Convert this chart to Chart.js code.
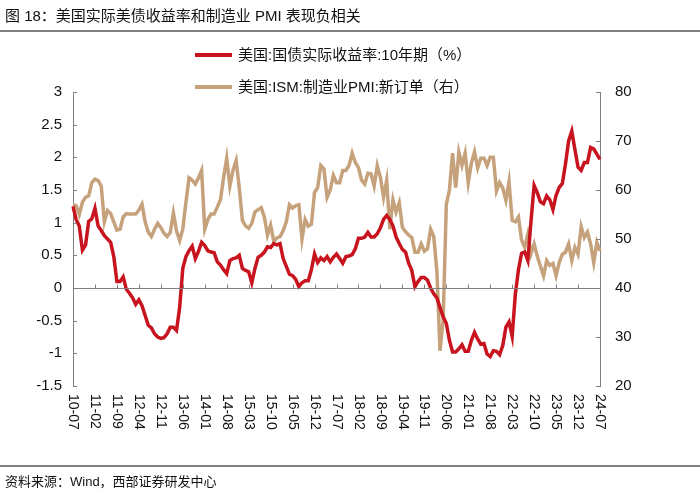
<!DOCTYPE html>
<html>
<head>
<meta charset="utf-8">
<script src="https://cdn.jsdelivr.net/npm/chart.js@4/dist/chart.umd.min.js"></script>
<style>
  body { margin: 0; background: #fff; }
  #wrap { position: relative; width: 700px; height: 493px; overflow: hidden; font-family: "Liberation Sans", Arial, "Noto Sans CJK SC", sans-serif; color: #111; }
  #c { position: absolute; left: 0; top: 0; }
  .title { position: absolute; left: 5px; top: 6px; font-size: 15px; line-height: 20px; white-space: nowrap; }
  .rule { position: absolute; left: 0; width: 700px; height: 2px; background: #7f7f7f; }
  .legend { position: absolute; left: 195px; font-size: 15px; line-height: 20px; white-space: nowrap; }
  .legend span.swatch { display: inline-block; width: 37px; height: 4px; vertical-align: middle; margin-right: 6px; position: relative; top: -1px; }
  .source { position: absolute; left: 5px; top: 473px; font-size: 13px; line-height: 18px; white-space: nowrap; }
</style>
</head>
<body>
<div id="wrap">
  <canvas id="c" width="700" height="493"></canvas>
  <div class="title">图 18：美国实际美债收益率和制造业 PMI 表现负相关</div>
  <div class="rule" style="top:30px"></div>
  <div class="legend" style="top:45px"><span class="swatch" style="background:#c8141e"></span>美国:国债实际收益率:10年期（%）</div>
  <div class="legend" style="top:77px"><span class="swatch" style="background:#c6a27c"></span>美国:ISM:制造业PMI:新订单（右）</div>
  <div class="rule" style="top:465px"></div>
  <div class="source">资料来源：Wind，西部证券研发中心</div>
</div>
<script>
// months 2010-07 .. 2024-07
const months = [];
for (let y = 2010, m = 7; y < 2024 || (y === 2024 && m <= 7); m++) {
    if (m > 12) { m = 1; y++; }
    months.push(String(y).slice(2) + '-' + String(m).padStart(2, '0'));
}

const tickLabels = ['10-07', '11-02', '11-09', '12-04', '12-11', '13-06', '14-01', '14-08', '15-03',
    '15-10', '16-05', '16-12', '17-07', '18-02', '18-09', '19-04', '19-11', '20-06', '21-01',
    '21-08', '22-03', '22-10', '23-05', '23-12', '24-07'];

const realYield = [
    1.25, 1.05, 0.95, 0.58, 0.66, 1.02, 1.06, 1.22, 0.95, 0.88, 0.80, 0.75,
    0.70, 0.48, 0.10, 0.10, 0.17, -0.02, -0.08, -0.15, -0.25, -0.18, -0.27, -0.42,
    -0.57, -0.61, -0.70, -0.75, -0.77, -0.76, -0.70, -0.60, -0.60, -0.65, -0.30, 0.30,
    0.48, 0.57, 0.64, 0.45, 0.56, 0.70, 0.65, 0.57, 0.55, 0.54, 0.40, 0.35,
    0.28, 0.22, 0.42, 0.45, 0.46, 0.50, 0.30, 0.27, 0.25, 0.08, 0.30, 0.47,
    0.50, 0.55, 0.63, 0.62, 0.68, 0.66, 0.68, 0.45, 0.33, 0.21, 0.19, 0.13,
    0.02, 0.08, 0.11, 0.11, 0.28, 0.52, 0.39, 0.46, 0.42, 0.48, 0.40, 0.47,
    0.52, 0.45, 0.38, 0.48, 0.49, 0.51, 0.60, 0.76, 0.76, 0.78, 0.85, 0.78,
    0.78, 0.83, 0.92, 1.05, 1.11, 1.05, 0.95, 0.78, 0.68, 0.59, 0.55, 0.38,
    0.27, 0.02, 0.10, 0.16, 0.16, 0.12, 0.00, -0.09, -0.15, -0.30, -0.44, -0.54,
    -0.80, -0.98, -0.98, -0.93, -0.87, -0.97, -0.97, -0.80, -0.68, -0.78, -0.86, -0.85,
    -1.01, -1.05, -0.96, -0.97, -1.02, -0.88, -0.60, -0.52, -0.74, -0.10, 0.28, 0.53,
    0.55, 0.42, 1.02, 1.57, 1.46, 1.32, 1.29, 1.41, 1.35, 1.20, 1.42, 1.54,
    1.60, 1.90, 2.25, 2.40, 2.12, 1.85, 1.80, 1.92, 1.92, 2.15, 2.13, 2.05,
    1.97
];

const newOrders = [
    57.0, 56.8, 55.0, 57.5, 58.5, 58.8, 61.5, 62.2, 61.9, 60.8, 53.5, 55.8,
    55.2, 53.5, 51.8, 52.0, 54.5, 55.2, 55.1, 55.1, 55.1, 55.9, 57.1, 53.5,
    51.4, 50.5, 52.0, 53.2, 52.3, 51.2, 50.5, 51.3, 55.3, 51.6, 49.7, 52.0,
    57.5, 62.5, 62.0, 61.2, 62.5, 64.0, 52.0, 54.0, 55.1, 55.1, 56.5, 58.0,
    62.5, 66.5, 60.8, 64.0, 66.0, 60.5, 53.8, 52.7, 52.2, 53.2, 55.5, 56.0,
    56.4, 54.5, 50.8, 52.8, 49.5, 50.2, 50.5, 51.7, 53.5, 57.0, 56.3, 56.8,
    57.0, 50.0, 54.0, 52.6, 53.0, 59.5, 60.5, 65.0, 64.3, 58.5, 60.0, 63.0,
    61.5, 61.5, 64.0, 64.0, 65.0, 67.5, 65.6, 64.6, 62.0, 61.2, 63.4, 63.3,
    60.8, 65.0, 62.6, 58.5, 62.0, 52.0, 58.0, 55.5, 57.4, 52.4, 51.5, 50.8,
    50.3, 47.3, 47.3, 49.0, 47.5, 48.0, 52.0, 50.5, 43.5, 27.2, 33.5, 57.0,
    60.0, 67.5, 60.5, 67.7, 65.0, 67.5, 61.5, 65.5, 67.8, 64.5, 66.5, 66.5,
    65.0, 66.7, 66.7, 59.8, 61.5, 60.4, 57.9, 61.7, 53.8, 53.5, 54.5, 49.8,
    48.3, 51.0, 47.0, 49.0, 46.5, 44.5, 42.5, 45.6, 44.6, 45.0, 42.5, 45.2,
    46.9, 47.3, 49.0, 45.6, 48.3, 46.9, 52.5, 50.3, 51.4, 49.0, 45.2, 49.3,
    47.6
];

const axisColor = '#808080';
const numFont = '"Liberation Sans", Arial, sans-serif';

// axis lines, inward tick marks, zero line and the rotated month labels
const axisPlugin = {
    id: 'axisDecor',
    afterDatasetsDraw(chart) {
        const ctx = chart.ctx;
        const area = chart.chartArea;
        const x = chart.scales.x, y = chart.scales.y, y1 = chart.scales.y1;
        ctx.save();
        ctx.strokeStyle = axisColor;
        ctx.lineWidth = 1;
        ctx.beginPath();
        y.ticks.forEach(t => {
            const py = Math.round(y.getPixelForValue(t.value)) + 0.5;
            ctx.moveTo(area.left, py);
            ctx.lineTo(area.left + 4, py);
        });
        y1.ticks.forEach(t => {
            const py = Math.round(y1.getPixelForValue(t.value)) + 0.5;
            ctx.moveTo(area.right - 4, py);
            ctx.lineTo(area.right, py);
        });
        const y0 = Math.round(y.getPixelForValue(0)) + 0.5;
        ctx.moveTo(area.left, y0);
        ctx.lineTo(area.right, y0);
        tickLabels.forEach(lab => {
            const px = Math.round(x.getPixelForValue(months.indexOf(lab))) + 0.5;
            ctx.moveTo(px, y0);
            ctx.lineTo(px, y0 - 4);
        });
        ctx.stroke();

        ctx.fillStyle = '#111';
        ctx.font = '14px ' + numFont;
        ctx.textAlign = 'left';
        ctx.textBaseline = 'middle';
        tickLabels.forEach(lab => {
            const px = x.getPixelForValue(months.indexOf(lab));
            ctx.save();
            ctx.translate(px, area.bottom + 8);
            ctx.rotate(Math.PI / 2);
            ctx.fillText(lab, 0, 0);
            ctx.restore();
        });
        ctx.restore();
    }
};

const chart = new Chart(document.getElementById('c'), {
    type: 'line',
    data: {
        labels: months,
        datasets: [{
            label: '美国:国债实际收益率:10年期（%）',
            data: realYield,
            yAxisID: 'y',
            borderColor: '#c8141e',
            borderWidth: 3.5,
            pointRadius: 0,
            tension: 0,
        }, {
            label: '美国:ISM:制造业PMI:新订单（右）',
            data: newOrders,
            yAxisID: 'y1',
            borderColor: '#c6a27c',
            borderWidth: 3.5,
            pointRadius: 0,
            tension: 0,
        }],
    },
    options: {
        responsive: false,
        animation: false,
        layout: { padding: { top: 92, bottom: 107, left: 0, right: 0 } },
        plugins: {
            legend: { display: false },
            tooltip: { enabled: false },
        },
        scales: {
            x: {
                type: 'category',
                display: false,
            },
            y: {
                position: 'left',
                min: -1.5,
                max: 3,
                grid: { display: false, drawTicks: false },
                border: { display: true, color: axisColor, width: 1 },
                ticks: {
                    stepSize: 0.5,
                    padding: 11,
                    color: '#111',
                    font: { family: numFont, size: 15 },
                    callback: v => String(v),
                },
                afterFit: s => { s.width = 73; },
            },
            y1: {
                position: 'right',
                min: 20,
                max: 80,
                grid: { display: false, drawTicks: false },
                border: { display: true, color: axisColor, width: 1 },
                ticks: {
                    stepSize: 10,
                    padding: 15,
                    color: '#111',
                    font: { family: numFont, size: 15 },
                },
                afterFit: s => { s.width = 100; },
            },
        },
    },
    plugins: [axisPlugin],
});
</script>
</body>
</html>
